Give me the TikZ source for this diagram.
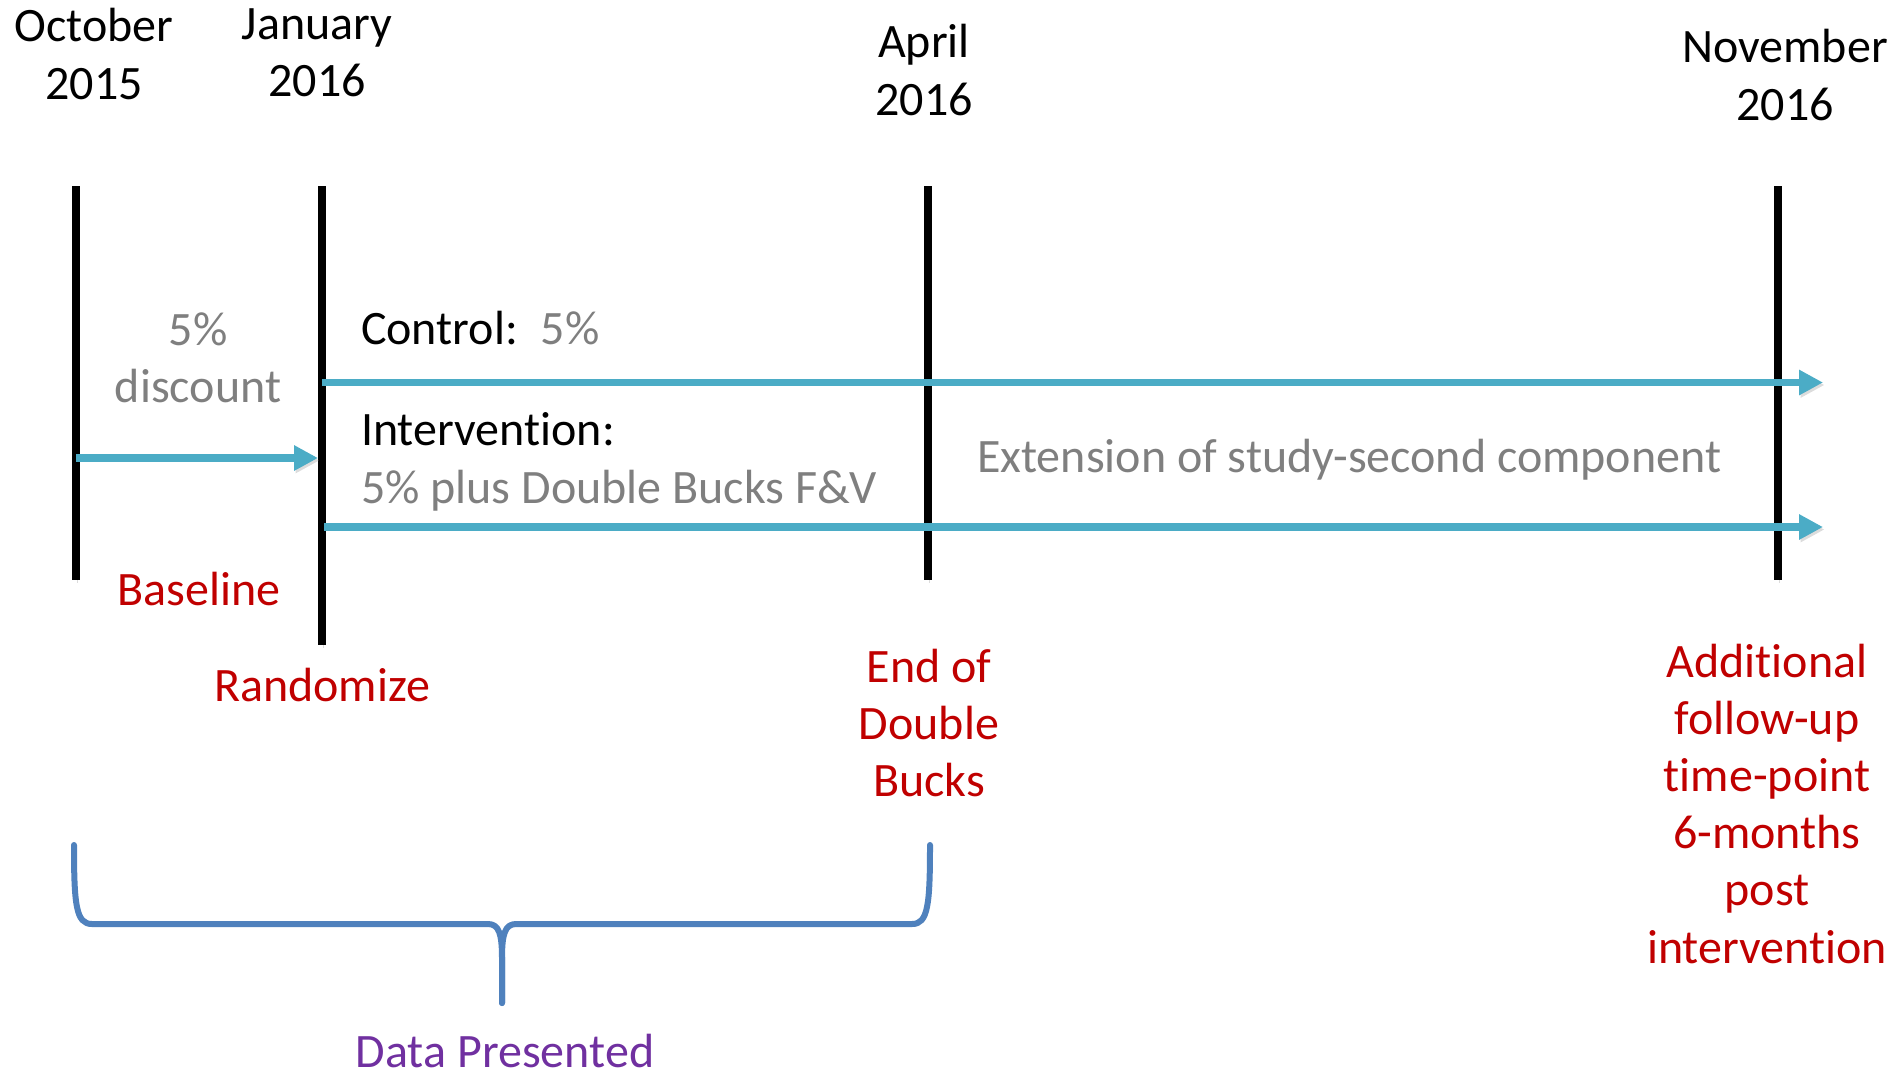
\documentclass[tikz,border=0pt]{standalone}
\usepackage{fontspec}
\setmainfont{Carlito}[Ligatures={NoCommon}]
\usetikzlibrary{arrows.meta}
\definecolor{tgray}{HTML}{7F7F7F}
\definecolor{tred}{HTML}{C00000}
\definecolor{tpurple}{HTML}{7030A0}
\definecolor{tblue}{HTML}{4BACC6}
\definecolor{bblue}{HTML}{4F81BD}
\begin{document}
\begin{tikzpicture}[x=1pt,y=-1pt,
  every node/.style={inner sep=0pt, outer sep=0pt, font=\fontsize{48pt}{57.2pt}\selectfont},
  lbl/.style={align=center},
  softshadow/.style={preaction={draw=black!45, opacity=.3, transform canvas={shift={(1.5pt,-2.5pt)}}}},
  tick/.style={line width=8pt, draw=black, softshadow},
  flow/.style={line width=7.5pt, draw=tblue, -{Triangle[length=24pt,width=24pt]}, softshadow},
  bracestyle/.style={line width=6pt, draw=bblue, line cap=round, line join=round, softshadow}
]
\useasboundingbox (0,0) rectangle (1897,1072);

% date labels
\node[lbl] (oct) at (94,54) {October\\2015};
\node[lbl] (jan) at (317,53) {January\\2016};
\node[lbl] (apr) at (924,70) {April\\2016};
\node[lbl] (nov) at (1785,75) {November\\2016};

% vertical time markers
\coordinate (v1t) at (76,186);  \coordinate (v1b) at (76,580);
\coordinate (v2t) at (322,186); \coordinate (v2b) at (322,645);
\coordinate (v3t) at (928,186); \coordinate (v3b) at (928,580);
\coordinate (v4t) at (1778,186); \coordinate (v4b) at (1778,580);
\draw[tick] (v1t) -- (v1b);
\draw[tick] (v2t) -- (v2b);
\draw[tick] (v3t) -- (v3b);
\draw[tick] (v4t) -- (v4b);

% arrows
\coordinate (b0) at (76,458);  \coordinate (b1) at (318,458);
\coordinate (c0) at (322,382.5); \coordinate (c1) at (1823,382.5);
\coordinate (i0) at (324,527); \coordinate (i1) at (1823,527);
\draw[flow] (b0) -- (b1);
\draw[flow] (c0) -- (c1);
\draw[flow] (i0) -- (i1);

% middle texts
\node[lbl, text=tgray] (disc) at (198,358) {5\%\\discount};
\node[anchor=base west] (ctrl) at (361,344) {Control:\hspace{23pt}\textcolor{tgray}{5\%}};
\node[anchor=base west] (intv) at (361,445) {Intervention:};
\node[anchor=base west, text=tgray] (intvd) at (361,503) {5\% plus Double Bucks F\&V};
\node[anchor=base west, text=tgray] (ext) at (977,472) {Extension of study-second component};

% red event labels
\node[anchor=base, text=tred] (base) at (199,605) {Baseline};
\node[anchor=base, text=tred] (rand) at (322,701) {Randomize};
\node[lbl, text=tred] (endb) at (929,723) {End of\\Double\\Bucks};
\node[lbl, text=tred] (addl) at (1767,803.5) {Additional\\follow-up\\time-point\\6-months\\post\\intervention};

% brace
\draw[bracestyle] (74,845) .. controls (74,905) and (76,924) .. (92,924)
  -- (488,924) .. controls (499,924) and (502,934) .. (502,958) -- (502,1003);
\draw[bracestyle] (502,1003) -- (502,958) .. controls (502,934) and (505,924) .. (516,924)
  -- (912,924) .. controls (928,924) and (930,905) .. (930,845);
\node[anchor=base, text=tpurple] (data) at (505,1067) {Data Presented};
\end{tikzpicture}
\end{document}
